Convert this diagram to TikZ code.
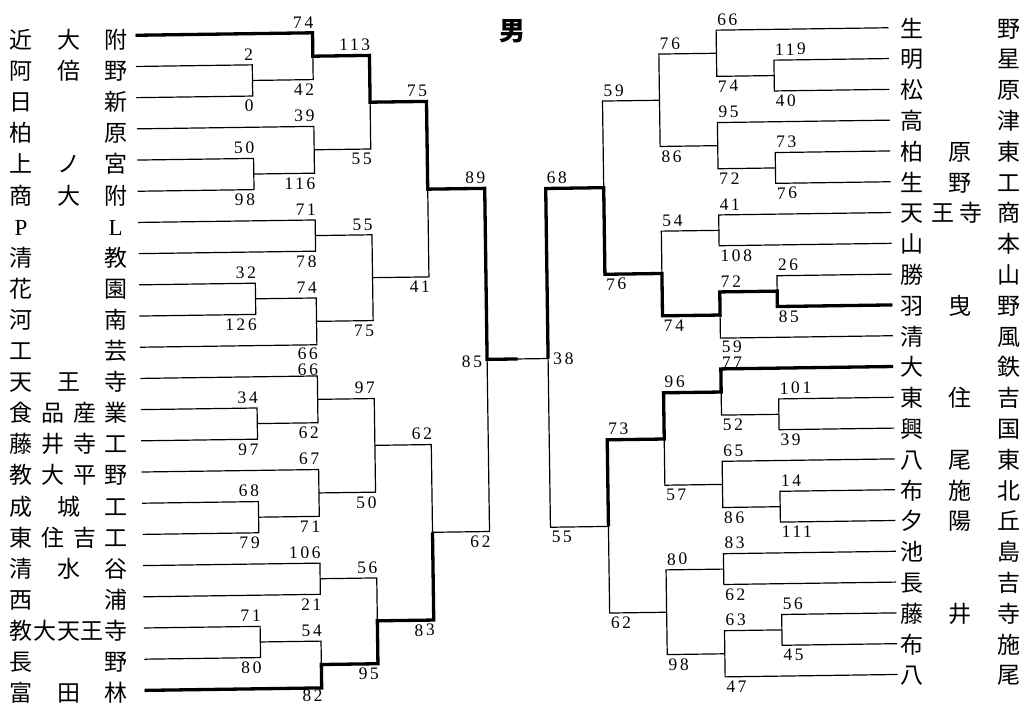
\documentclass[tikz,border=0pt]{standalone}
\usepackage{fontspec}
\setmainfont{Liberation Serif}
\newfontfamily\cjk{Noto Sans CJK JP}
\newfontfamily\numf[LetterSpace=15]{Liberation Serif}
\newcommand\nmL[1]{\hbox to 118pt{#1}}
\newcommand\nmR[1]{\hbox to 120pt{#1}}
\newcommand\brk[3]{\draw[bracket] (#1) -- (#1 -| #3) -- (#2 -| #3) -- (#2);}
\newcommand\labL[5]{\node[toplab] (#3t) at (#1 -| #3) {#4};\node[botlab] (#3b) at (#2 -| #3) {#5};}
\newcommand\labR[5]{\node[toplabr] (#3t) at (#1 -| #3) {#4};\node[botlabr] (#3b) at (#2 -| #3) {#5};}
\begin{document}
\begin{tikzpicture}[x=1pt,y=-1pt,
  bracket/.style={line width=1.2pt},
  winner/.style={line width=3.3pt},
  numtxt/.style={inner sep=0pt,font=\numf\fontsize{17.5}{17.5}\selectfont},
  toplab/.style={numtxt,anchor=south east,xshift=1pt,yshift=4.5pt},
  botlab/.style={numtxt,anchor=north east,xshift=1pt,yshift=-4pt},
  toplabr/.style={numtxt,anchor=south west,xshift=1pt,yshift=4.5pt},
  botlabr/.style={numtxt,anchor=north west,xshift=1pt,yshift=-4pt},
  schname/.style={inner sep=0pt,anchor=west,font=\cjk\fontsize{23}{23}\selectfont,text height=19pt,text depth=2pt}]
\fill[white] (0,0) rectangle (1029,705);
\useasboundingbox (0,0) rectangle (1029,705);
\node[inner sep=0pt,font=\cjk\bfseries\fontsize{26}{26}\selectfont] (title) at (512.5,31) {男};
% left names
\node[schname] (nl0) at (9.5,40) {\nmL{近\hfill 大\hfill 附}};
\node[schname] (nl1) at (9.5,71.1) {\nmL{阿\hfill 倍\hfill 野}};
\node[schname] (nl2) at (9.5,102.2) {\nmL{日\hfill 新}};
\node[schname] (nl3) at (9.5,133.3) {\nmL{柏\hfill 原}};
\node[schname] (nl4) at (9.5,164.4) {\nmL{上\hfill ノ\hfill 宮}};
\node[schname] (nl5) at (9.5,195.5) {\nmL{商\hfill 大\hfill 附}};
\node[schname] (nl6) at (9.5,226.6) {\nmL{\hskip5pt{\rmfamily P}\hfill{\rmfamily L}\hskip5pt}};
\node[schname] (nl7) at (9.5,257.7) {\nmL{清\hfill 教}};
\node[schname] (nl8) at (9.5,288.8) {\nmL{花\hfill 園}};
\node[schname] (nl9) at (9.5,319.9) {\nmL{河\hfill 南}};
\node[schname] (nl10) at (9.5,351) {\nmL{工\hfill 芸}};
\node[schname] (nl11) at (9.5,382.1) {\nmL{天\hfill 王\hfill 寺}};
\node[schname] (nl12) at (9.5,413.2) {\nmL{食\hfill 品\hfill 産\hfill 業}};
\node[schname] (nl13) at (9.5,444.3) {\nmL{藤\hfill 井\hfill 寺\hfill 工}};
\node[schname] (nl14) at (9.5,475.4) {\nmL{教\hfill 大\hfill 平\hfill 野}};
\node[schname] (nl15) at (9.5,506.5) {\nmL{成\hfill 城\hfill 工}};
\node[schname] (nl16) at (9.5,537.6) {\nmL{東\hfill 住\hfill 吉\hfill 工}};
\node[schname] (nl17) at (9.5,568.7) {\nmL{清\hfill 水\hfill 谷}};
\node[schname] (nl18) at (9.5,599.8) {\nmL{西\hfill 浦}};
\node[schname] (nl19) at (9.5,630.9) {\nmL{教\hfill 大\hfill 天\hfill 王\hfill 寺}};
\node[schname] (nl20) at (9.5,662) {\nmL{長\hfill 野}};
\node[schname] (nl21) at (9.5,693.1) {\nmL{富\hfill 田\hfill 林}};
% right names
\node[schname] (nr0) at (900,28.5) {\nmR{生\hfill 野}};
\node[schname] (nr1) at (900,59.3) {\nmR{明\hfill 星}};
\node[schname] (nr2) at (900,90.1) {\nmR{松\hfill 原}};
\node[schname] (nr3) at (900,120.9) {\nmR{高\hfill 津}};
\node[schname] (nr4) at (900,151.7) {\nmR{柏\hfill 原\hfill 東}};
\node[schname] (nr5) at (900,182.5) {\nmR{生\hfill 野\hfill 工}};
\node[schname] (nr6) at (900,213.3) {\nmR{天\hskip8pt 王\hskip5pt 寺\hfill 商}};
\node[schname] (nr7) at (900,244.1) {\nmR{山\hfill 本}};
\node[schname] (nr8) at (900,274.9) {\nmR{勝\hfill 山}};
\node[schname] (nr9) at (900,305.7) {\nmR{羽\hfill 曳\hfill 野}};
\node[schname] (nr10) at (900,336.5) {\nmR{清\hfill 風}};
\node[schname] (nr11) at (900,367.3) {\nmR{大\hfill 鉄}};
\node[schname] (nr12) at (900,398.1) {\nmR{東\hfill 住\hfill 吉}};
\node[schname] (nr13) at (900,428.9) {\nmR{興\hfill 国}};
\node[schname] (nr14) at (900,459.7) {\nmR{八\hfill 尾\hfill 東}};
\node[schname] (nr15) at (900,490.5) {\nmR{布\hfill 施\hfill 北}};
\node[schname] (nr16) at (900,521.3) {\nmR{夕\hfill 陽\hfill 丘}};
\node[schname] (nr17) at (900,552.1) {\nmR{池\hfill 島}};
\node[schname] (nr18) at (900,582.9) {\nmR{長\hfill 吉}};
\node[schname] (nr19) at (900,613.7) {\nmR{藤\hfill 井\hfill 寺}};
\node[schname] (nr20) at (900,644.5) {\nmR{布\hfill 施}};
\node[schname] (nr21) at (900,675.3) {\nmR{八\hfill 尾}};
\begin{scope}[transform canvas={rotate around={0.8:(514,352)}}]
\foreach \i in {0,...,21}{
  \pgfmathsetmacro\yl{30+31.2*\i}
  \pgfmathsetmacro\yr{33+30.8*\i}
  \coordinate (l\i) at (140,\yl);
  \coordinate (r\i) at (893,\yr);
}
% left matches
\coordinate (a1) at (256.3,76.8);
\coordinate (a2) at (317,53.4);
\coordinate (b1) at (256.3,170.4);
\coordinate (b2) at (317,147);
\coordinate (a3) at (373.6,100.2);
\coordinate (c2) at (317,232.8);
\coordinate (c1) at (256.3,295.2);
\coordinate (d2) at (317,318.6);
\coordinate (b3) at (373.6,275.7);
\coordinate (a4) at (430,187.95);
\coordinate (e1) at (256.3,420);
\coordinate (e2) at (317,396.6);
\coordinate (f1) at (256.3,513.6);
\coordinate (f2) at (317,490.2);
\coordinate (c3) at (373.6,443.4);
\coordinate (g2) at (317,576);
\coordinate (g1) at (256.3,638.4);
\coordinate (h2) at (317,661.8);
\coordinate (d3) at (373.6,618.9);
\coordinate (b4) at (430,531.15);
\coordinate (lfin) at (487,359);
% right matches
\coordinate (ra1) at (778,79.2);
\coordinate (ra2) at (720.6,56.1);
\coordinate (rb1) at (778,171.6);
\coordinate (rb2) at (720.6,148.5);
\coordinate (ra3) at (663,102.3);
\coordinate (rc2) at (720.6,233.2);
\coordinate (rd1) at (778,294.8);
\coordinate (rd2) at (720.6,317.9);
\coordinate (rb3) at (663,275.55);
\coordinate (ra4) at (606,188.93);
\coordinate (re1) at (778,418);
\coordinate (re2) at (720.6,394.9);
\coordinate (rf1) at (778,510.4);
\coordinate (rf2) at (720.6,487.3);
\coordinate (rc3) at (663,441.1);
\coordinate (rg2) at (720.6,572);
\coordinate (rh1) at (778,633.6);
\coordinate (rh2) at (720.6,656.7);
\coordinate (rd3) at (663,614.35);
\coordinate (rb4) at (606,527.73);
\coordinate (rfin) at (548,359);
\coordinate (cmid) at (517.5,359);
% left brackets
\brk{l1}{l2}{a1}
\brk{l0}{a1}{a2}
\brk{l4}{l5}{b1}
\brk{l3}{b1}{b2}
\brk{a2}{b2}{a3}
\brk{l6}{l7}{c2}
\brk{l8}{l9}{c1}
\brk{c1}{l10}{d2}
\brk{c2}{d2}{b3}
\brk{a3}{b3}{a4}
\brk{l12}{l13}{e1}
\brk{l11}{e1}{e2}
\brk{l15}{l16}{f1}
\brk{l14}{f1}{f2}
\brk{e2}{f2}{c3}
\brk{l17}{l18}{g2}
\brk{l19}{l20}{g1}
\brk{g1}{l21}{h2}
\brk{g2}{h2}{d3}
\brk{c3}{d3}{b4}
\brk{a4}{b4}{lfin}
% right brackets
\brk{r1}{r2}{ra1}
\brk{r0}{ra1}{ra2}
\brk{r4}{r5}{rb1}
\brk{r3}{rb1}{rb2}
\brk{ra2}{rb2}{ra3}
\brk{r6}{r7}{rc2}
\brk{r8}{r9}{rd1}
\brk{rd1}{r10}{rd2}
\brk{rc2}{rd2}{rb3}
\brk{ra3}{rb3}{ra4}
\brk{r12}{r13}{re1}
\brk{r11}{re1}{re2}
\brk{r15}{r16}{rf1}
\brk{r14}{rf1}{rf2}
\brk{re2}{rf2}{rc3}
\brk{r17}{r18}{rg2}
\brk{r19}{r20}{rh1}
\brk{rh1}{r21}{rh2}
\brk{rg2}{rh2}{rd3}
\brk{rc3}{rd3}{rb4}
\brk{ra4}{rb4}{rfin}
\draw[bracket] (lfin) -- (rfin);
% winners' paths
\draw[winner] (l0) -- (l0 -| a2) -- (a2) -- (a2 -| a3) -- (a3) -- (a3 -| a4) -- (a4) -- (a4 -| lfin) -- (lfin) -- (cmid);
\draw[winner] (l21) -- (l21 -| h2) -- (h2) -- (h2 -| d3) -- (d3) -- (d3 -| b4) -- (b4);
\draw[winner] (r9) -- (r9 -| rd1) -- (rd1) -- (rd1 -| rd2) -- (rd2) -- (rd2 -| rb3) -- (rb3) -- (rb3 -| ra4) -- (ra4) -- (ra4 -| rfin) -- (rfin);
\draw[winner] (r11) -- (r11 -| re2) -- (re2) -- (re2 -| rc3) -- (rc3) -- (rc3 -| rb4) -- (rb4);
% left labels
\labL{l1}{l2}{a1}{2}{0}
\labL{l0}{a1}{a2}{74}{42}
\labL{l4}{l5}{b1}{50}{98}
\labL{l3}{b1}{b2}{39}{116}
\labL{a2}{b2}{a3}{113}{55}
\labL{l6}{l7}{c2}{71}{78}
\labL{l8}{l9}{c1}{32}{126}
\node[botlab,yshift=1.5pt] (d2b) at (l10 -| d2) {66};
\node[toplab] (d2t) at (c1 -| d2) {74};
\labL{c2}{d2}{b3}{55}{75}
\labL{a3}{b3}{a4}{75}{41}
\labL{l12}{l13}{e1}{34}{97}
\node[toplab,yshift=-4pt] (e2t) at (l11 -| e2) {66};
\node[botlab] (e2b) at (e1 -| e2) {62};
\labL{l15}{l16}{f1}{68}{79}
\labL{l14}{f1}{f2}{67}{71}
\labL{e2}{f2}{c3}{97}{50}
\labL{l17}{l18}{g2}{106}{21}
\labL{l19}{l20}{g1}{71}{80}
\node[toplab] (h2t) at (g1 -| h2) {54};
\node[botlab,yshift=2.5pt] (h2b) at (l21 -| h2) {82};
\labL{g2}{h2}{d3}{56}{95}
\labL{c3}{d3}{b4}{62}{83}
\labL{a4}{b4}{lfin}{89}{62}
% right labels
\labR{r1}{r2}{ra1}{119}{40}
\labR{r0}{ra1}{ra2}{66}{74}
\labR{r4}{r5}{rb1}{73}{76}
\labR{r3}{rb1}{rb2}{95}{72}
\labR{ra2}{rb2}{ra3}{76}{86}
\labR{r6}{r7}{rc2}{41}{108}
\labR{r8}{r9}{rd1}{26}{85}
\node[toplabr] (rd2t) at (rd1 -| rd2) {72};
\node[botlabr,yshift=1.5pt] (rd2b) at (r10 -| rd2) {59};
\labR{rc2}{rd2}{rb3}{54}{74}
\labR{ra3}{rb3}{ra4}{59}{76}
\labR{r12}{r13}{re1}{101}{39}
\node[toplabr,yshift=-4pt] (re2t) at (r11 -| re2) {77};
\node[botlabr] (re2b) at (re1 -| re2) {52};
\labR{r15}{r16}{rf1}{14}{111}
\labR{r14}{rf1}{rf2}{65}{86}
\labR{re2}{rf2}{rc3}{96}{57}
\labR{r17}{r18}{rg2}{83}{62}
\labR{r19}{r20}{rh1}{56}{45}
\labR{rh1}{r21}{rh2}{63}{47}
\labR{rg2}{rh2}{rd3}{80}{98}
\labR{rc3}{rd3}{rb4}{73}{62}
\labR{ra4}{rb4}{rfin}{68}{55}
% final scores
\node[numtxt,anchor=east,xshift=-5pt,yshift=-2pt] (fl) at (lfin) {85};
\node[numtxt,anchor=west,xshift=5pt,yshift=-0.5pt] (fr) at (rfin) {38};
\end{scope}
\end{tikzpicture}
\end{document}
